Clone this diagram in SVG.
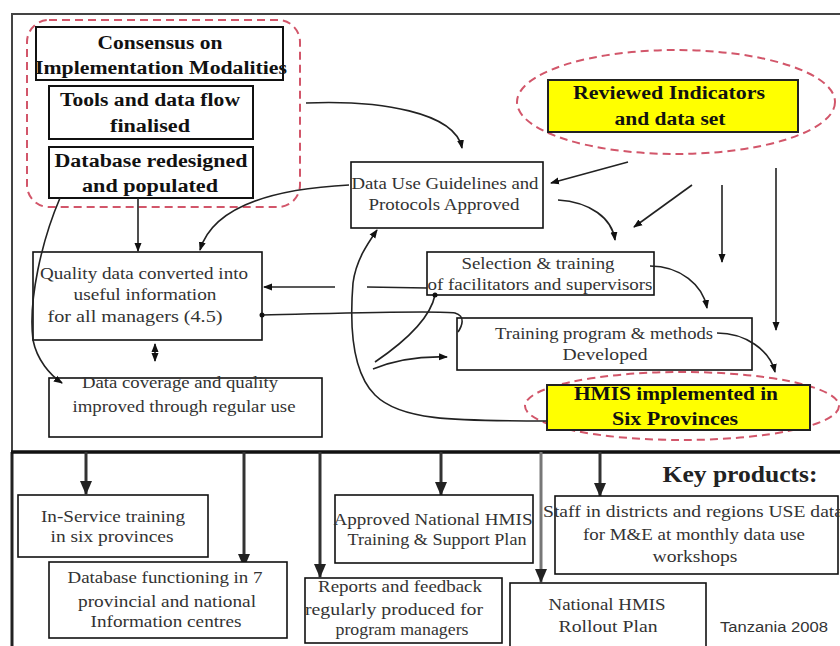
<svg xmlns="http://www.w3.org/2000/svg" width="840" height="646" viewBox="0 0 840 646">
<style>
.bx{fill:#fff;stroke:#111;stroke-width:1.6}
.bb{fill:#fff;stroke:#111;stroke-width:2}
.yl{fill:#ffff00;stroke:#222;stroke-width:2}
.rd{fill:none;stroke:#d2566a;stroke-width:2;stroke-dasharray:8 5}
.t{font-family:"Liberation Serif","Times New Roman",serif;font-size:17px;fill:#333;text-anchor:middle}
.tb{font-family:"Liberation Serif","Times New Roman",serif;font-size:18px;font-weight:bold;fill:#111;text-anchor:middle}
.c{fill:none;stroke:#222;stroke-width:1.6}
.k{fill:none;stroke:#333;stroke-width:3}
</style>
<defs>
<marker id="a" markerUnits="userSpaceOnUse" markerWidth="9" markerHeight="8" refX="8" refY="4" orient="auto"><path d="M0,0.5 L9,4 L0,7.5 z" fill="#111"/></marker>
<marker id="ak" markerUnits="userSpaceOnUse" markerWidth="14" markerHeight="12" refX="13" refY="6" orient="auto"><path d="M0,0 L14,6 L0,12 z" fill="#222"/></marker>
</defs>
<rect width="840" height="646" fill="#fff"/>
<g id="frame">
<line x1="11" y1="14" x2="840" y2="14" stroke="#444" stroke-width="2"/>
<line x1="12" y1="14" x2="12" y2="452" stroke="#444" stroke-width="2"/>
<line x1="12" y1="452" x2="12" y2="646" stroke="#222" stroke-width="3"/>
<line x1="11" y1="452" x2="840" y2="452" stroke="#111" stroke-width="3.5"/>
</g>
<g id="groupTop">
<rect class="rd" x="27" y="20" width="273" height="187" rx="22"/>
</g>
<g id="consensus">
<rect class="bb" x="36" y="27" width="247" height="53"/>
<text class="tb" x="160" y="49" textLength="125" lengthAdjust="spacingAndGlyphs">Consensus on</text>
<text class="tb" x="161" y="74" textLength="252" lengthAdjust="spacingAndGlyphs">Implementation Modalities</text>
</g>
<g id="tools">
<rect class="bb" x="49" y="86" width="204" height="53"/>
<text class="tb" x="150" y="106" textLength="180" lengthAdjust="spacingAndGlyphs">Tools and data flow</text>
<text class="tb" x="150" y="132" textLength="80" lengthAdjust="spacingAndGlyphs">finalised</text>
</g>
<g id="database">
<rect class="bb" x="49" y="147" width="204" height="51"/>
<text class="tb" x="151" y="167" textLength="193" lengthAdjust="spacingAndGlyphs">Database redesigned</text>
<text class="tb" x="150" y="192" textLength="136" lengthAdjust="spacingAndGlyphs">and populated</text>
</g>
<g id="reviewed">
<ellipse class="rd" cx="676" cy="102" rx="159" ry="52"/>
<rect class="yl" x="548" y="80" width="250" height="52"/>
<text class="tb" x="669" y="99" textLength="192" lengthAdjust="spacingAndGlyphs">Reviewed Indicators</text>
<text class="tb" x="670" y="125" textLength="111" lengthAdjust="spacingAndGlyphs">and data set</text>
</g>
<g id="dataUse">
<rect class="bx" x="351" y="162" width="192" height="66"/>
<text class="t" x="445" y="189" textLength="187" lengthAdjust="spacingAndGlyphs">Data Use Guidelines and</text>
<text class="t" x="444" y="210" textLength="151" lengthAdjust="spacingAndGlyphs">Protocols Approved</text>
</g>
<g id="quality">
<rect class="bx" x="33" y="252" width="229" height="88"/>
<text class="t" x="144" y="279" textLength="208" lengthAdjust="spacingAndGlyphs">Quality data converted into</text>
<text class="t" x="145" y="300" textLength="143" lengthAdjust="spacingAndGlyphs">useful information</text>
<text class="t" x="135" y="322" textLength="175" lengthAdjust="spacingAndGlyphs">for all managers (4.5)</text>
</g>
<g id="coverage">
<rect class="bx" x="49" y="378" width="273" height="59"/>
<text class="t" x="180" y="388" textLength="196" lengthAdjust="spacingAndGlyphs">Data coverage and quality</text>
<text class="t" x="184" y="412" textLength="223" lengthAdjust="spacingAndGlyphs">improved through regular use</text>
</g>
<g id="selection">
<rect class="bx" x="427" y="252" width="227" height="43"/>
<text class="t" x="538" y="269" textLength="153" lengthAdjust="spacingAndGlyphs">Selection &amp; training</text>
<text class="t" x="540" y="290" textLength="225" lengthAdjust="spacingAndGlyphs">of facilitators and supervisors</text>
</g>
<g id="training">
<rect class="bx" x="457" y="318" width="295" height="52"/>
<text class="t" x="604" y="339" textLength="218" lengthAdjust="spacingAndGlyphs">Training program &amp; methods</text>
<text class="t" x="605" y="360" textLength="85" lengthAdjust="spacingAndGlyphs">Developed</text>
</g>
<g id="hmis">
<ellipse class="rd" cx="682" cy="406" rx="157" ry="34"/>
<rect class="yl" x="547" y="385" width="263" height="45"/>
<text class="tb" x="676" y="400" textLength="204" lengthAdjust="spacingAndGlyphs">HMIS implemented in</text>
<text class="tb" x="675" y="425" textLength="126" lengthAdjust="spacingAndGlyphs">Six Provinces</text>
</g>
<g id="connectors">
<path class="c" d="M306,103 C380,100 455,112 462,148" marker-end="url(#a)"/>
<path class="c" d="M628,162 L551,183" marker-end="url(#a)"/>
<path class="c" d="M558,200 C590,202 612,218 615,240" marker-end="url(#a)"/>
<path class="c" d="M692,185 L634,227" marker-end="url(#a)"/>
<path class="c" d="M722,185 L722,262" marker-end="url(#a)"/>
<path class="c" d="M776,168 L776,330" marker-end="url(#a)"/>
<path class="c" d="M650,266 C680,266 703,285 707,308" marker-end="url(#a)"/>
<path class="c" d="M717,333 C745,333 770,350 775,372" marker-end="url(#a)"/>
<path class="c" d="M138,198 L138,251" marker-end="url(#a)"/>
<path class="c" d="M349,185 C290,188 215,200 200,250" marker-end="url(#a)"/>
<path class="c" d="M60,198 C42,240 28,300 33,340 C37,360 50,375 62,383" marker-end="url(#a)"/>
<path class="c" d="M427,288 L367,287"/>
<path class="c" d="M335,287 L264,287" marker-end="url(#a)"/>
<path class="c" d="M262,315 C350,313 440,310 455,313 C466,316 462,326 458,332"/>
<circle cx="262" cy="315" r="2.5" fill="#111"/>
<path class="c" d="M547,421 C450,421 400,420 375,395 C350,370 350,320 353,283 C356,260 368,243 377,230" marker-end="url(#a)"/>
<path class="c" d="M375,362 C400,345 430,320 435,295"/>
<circle cx="435" cy="295" r="2.5" fill="#111"/>
<path class="c" d="M373,369 C395,360 420,356 447,357" marker-end="url(#a)"/>
<path class="c" d="M155,352 L155,344" marker-end="url(#a)"/>
<path class="c" d="M155,352 L155,361" marker-end="url(#a)"/>
<path class="k" d="M86,452 L86,494" marker-end="url(#ak)"/>
<path class="k" d="M244,452 L244,567" marker-end="url(#ak)"/>
<path class="k" d="M320,452 L320,577" marker-end="url(#ak)"/>
<path class="k" d="M441,452 L441,495" marker-end="url(#ak)"/>
<path d="M541,452 L541,582" fill="none" stroke="#777" stroke-width="3" marker-end="url(#ak)"/>
<path class="k" d="M600,452 L600,496" marker-end="url(#ak)"/>
</g>
<g id="keyTitle">
<text x="740" y="482" font-family="Liberation Serif, serif" font-weight="bold" font-size="23" fill="#222" text-anchor="middle" textLength="155" lengthAdjust="spacingAndGlyphs">Key products:</text>
</g>
<g id="inservice">
<rect class="bx" x="18" y="495" width="190" height="62"/>
<text class="t" x="113" y="522" textLength="144" lengthAdjust="spacingAndGlyphs">In-Service training</text>
<text class="t" x="112" y="542" textLength="123" lengthAdjust="spacingAndGlyphs">in six provinces</text>
</g>
<g id="dbfunc">
<rect class="bx" x="49" y="562" width="238" height="76"/>
<text class="t" x="165" y="583" textLength="195" lengthAdjust="spacingAndGlyphs">Database functioning in 7</text>
<text class="t" x="167" y="607" textLength="178" lengthAdjust="spacingAndGlyphs">provincial and national</text>
<text class="t" x="166" y="627" textLength="151" lengthAdjust="spacingAndGlyphs">Information centres</text>
</g>
<g id="approved">
<rect class="bx" x="335" y="495" width="198" height="68"/>
<text class="t" x="433" y="525" textLength="199" lengthAdjust="spacingAndGlyphs">Approved National HMIS</text>
<text class="t" x="437" y="545" textLength="179" lengthAdjust="spacingAndGlyphs">Training &amp; Support Plan</text>
</g>
<g id="reports">
<rect class="bx" x="305" y="578" width="197" height="65"/>
<text class="t" x="400" y="592" textLength="164" lengthAdjust="spacingAndGlyphs">Reports and feedback</text>
<text class="t" x="394" y="615" textLength="178" lengthAdjust="spacingAndGlyphs">regularly produced for</text>
<text class="t" x="402" y="635" textLength="133" lengthAdjust="spacingAndGlyphs">program managers</text>
</g>
<g id="rollout">
<rect class="bx" x="510" y="583" width="196" height="70"/>
<text class="t" x="607" y="610" textLength="117" lengthAdjust="spacingAndGlyphs">National HMIS</text>
<text class="t" x="608" y="632" textLength="99" lengthAdjust="spacingAndGlyphs">Rollout Plan</text>
</g>
<g id="staff">
<rect class="bx" x="555" y="496" width="283" height="78"/>
<text class="t" x="693" y="517" textLength="300" lengthAdjust="spacingAndGlyphs">Staff in districts and regions USE data</text>
<text class="t" x="694" y="540" textLength="222" lengthAdjust="spacingAndGlyphs">for M&amp;E at monthly data use</text>
<text class="t" x="695" y="562" textLength="85" lengthAdjust="spacingAndGlyphs">workshops</text>
</g>
<g id="tanzania">
<text x="774" y="632" font-family="Liberation Sans, Arial, sans-serif" font-size="14" fill="#333" text-anchor="middle" textLength="108" lengthAdjust="spacingAndGlyphs">Tanzania 2008</text>
</g>
</svg>
